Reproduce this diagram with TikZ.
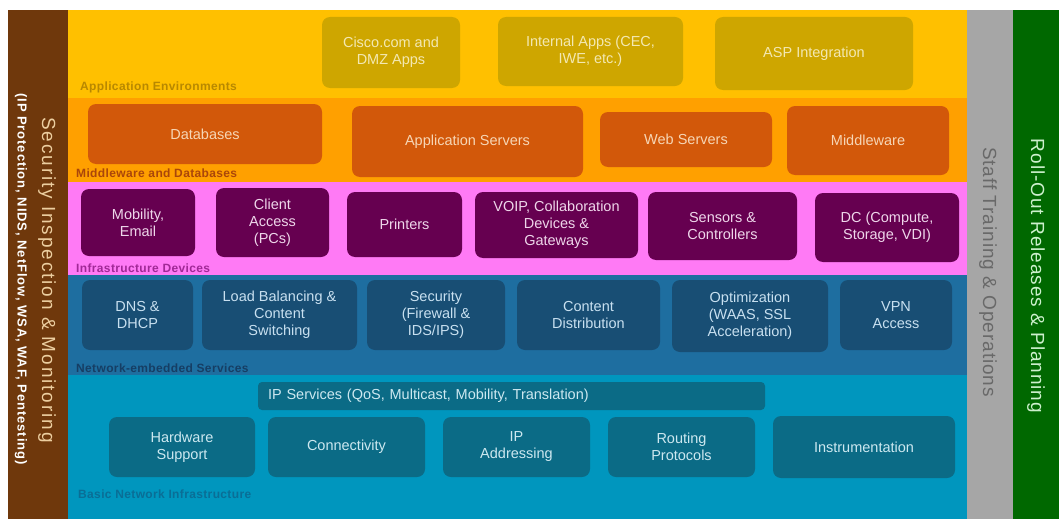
\documentclass[tikz,border=0pt]{standalone}
\usepackage{fontspec}
\setmainfont{Liberation Sans}
\newfontfamily\widefont[LetterSpace=5]{Liberation Sans}
\newfontfamily\widerfont[LetterSpace=10]{Liberation Sans}
\newfontfamily\labelfont[LetterSpace=3]{Liberation Sans}
\newfontfamily\subfont[LetterSpace=7]{Liberation Sans}

% layer colours
\definecolor{brownbar}{RGB}{111,56,12}
\definecolor{browntext}{RGB}{236,206,160}
\definecolor{yband}{RGB}{255,192,0}
\definecolor{ybox}{RGB}{206,166,0}
\definecolor{ytext}{RGB}{243,232,178}
\definecolor{ylabel}{RGB}{184,136,0}
\definecolor{oband}{RGB}{255,160,0}
\definecolor{obox}{RGB}{210,88,10}
\definecolor{otext}{RGB}{246,214,182}
\definecolor{olabel}{RGB}{170,70,10}
\definecolor{pband}{RGB}{255,122,245}
\definecolor{pbox}{RGB}{102,0,80}
\definecolor{ptext}{RGB}{238,214,234}
\definecolor{plabel}{RGB}{160,40,150}
\definecolor{bband}{RGB}{30,110,160}
\definecolor{bbox}{RGB}{24,78,116}
\definecolor{btext}{RGB}{200,224,240}
\definecolor{blabel}{RGB}{22,62,100}
\definecolor{tband}{RGB}{0,150,190}
\definecolor{tbox}{RGB}{11,107,134}
\definecolor{ttext}{RGB}{205,232,240}
\definecolor{tlabel}{RGB}{10,110,150}
\definecolor{grayband}{RGB}{166,166,166}
\definecolor{graytext}{RGB}{105,105,105}
\definecolor{greenband}{RGB}{0,104,0}
\definecolor{greentext}{RGB}{205,240,205}

\tikzset{
  tile/.style={rounded corners=8pt, inner sep=2pt, align=center,
    font=\fontsize{14.5}{17}\selectfont},
  yellowtile/.style={tile, fill=ybox, text=ytext},
  orangetile/.style={tile, fill=obox, text=otext},
  pinktile/.style={tile, fill=pbox, text=ptext},
  bluetile/.style={tile, fill=bbox, text=btext},
  tealtile/.style={tile, fill=tbox, text=ttext},
  layerlabel/.style={anchor=west, inner sep=0pt,
    font=\fontsize{12}{14}\labelfont\bfseries},
  sz/.style 2 args={minimum width=#1pt, minimum height=#2pt},
}

\begin{document}
\begin{tikzpicture}[x=1pt,y=-1pt]
\useasboundingbox (0,0) rectangle (1059,519);
\fill[white] (0,0) rectangle (1059,519);

% horizontal layers
\fill[yband] (68,10) rectangle (967,98);
\fill[oband] (68,98) rectangle (967,182);
\fill[pband] (68,182) rectangle (967,275);
\fill[bband] (68,275) rectangle (967,375);
\fill[tband] (68,375) rectangle (967,519);

% vertical bars
\fill[brownbar] (8,10) rectangle (68,519);
\fill[grayband] (967,10) rectangle (1013,519);
\fill[greenband] (1013,10) rectangle (1059,519);

% application environments
\node[yellowtile, sz={138}{71}] (cisco) at (391,52.5) {Cisco.com and\\DMZ Apps};
\node[yellowtile, sz={185}{69}] (internal) at (590.5,51.5) {Internal Apps (CEC,\\IWE, etc.)};
\node[yellowtile, sz={198}{73}] (asp) at (814,53.5) {ASP Integration};
\node[layerlabel, text=ylabel] (applbl) at (80,87) {Application Environments};

% middleware and databases
\node[orangetile, sz={234}{60}] (db) at (205,134) {Databases};
\node[orangetile, sz={231}{71}] (appsrv) at (467.5,141.5) {Application Servers};
\node[orangetile, sz={172}{55}] (websrv) at (686,139.5) {Web Servers};
\node[orangetile, sz={162}{69}] (mw) at (868,140.5) {Middleware};
\node[layerlabel, text=olabel] (mwlbl) at (76,173) {Middleware and Databases};

% infrastructure devices
\node[pinktile, sz={114}{67}] (mob) at (138,222.5) {Mobility,\\Email};
\node[pinktile, sz={113}{69}] (client) at (272.5,222.5) {Client\\Access\\(PCs)};
\node[pinktile, sz={115}{65}] (print) at (404.5,224.5) {Printers};
\node[pinktile, sz={163}{66}] (voip) at (556.5,225) {VOIP, Collaboration\\Devices \&\\Gateways};
\node[pinktile, sz={149}{68}] (sens) at (722.5,226) {Sensors \&\\Controllers};
\node[pinktile, sz={144}{69}] (dc) at (887,227.5) {DC (Compute,\\Storage, VDI)};
\node[layerlabel, text=plabel] (infralbl) at (76,268) {Infrastructure Devices};

% network-embedded services
\node[bluetile, sz={111}{70}] (dns) at (137.5,315) {DNS \&\\DHCP};
\node[bluetile, sz={155}{70}] (lb) at (279.5,315) {Load Balancing \&\\Content\\Switching};
\node[bluetile, sz={138}{70}] (sec) at (436,315) {Security\\(Firewall \&\\IDS/IPS)};
\node[bluetile, sz={143}{70}] (cdist) at (588.5,315) {Content\\Distribution};
\node[bluetile, sz={156}{72}] (opt) at (750,316) {Optimization\\(WAAS,  SSL\\Acceleration)};
\node[bluetile, sz={112}{70}] (vpn) at (896,315) {VPN\\Access};
\node[layerlabel, text=blabel] (netlbl) at (76,368) {Network-embedded Services};

% basic network infrastructure
\node[tealtile, rounded corners=4pt, minimum height=28pt, text width=487pt,
  align=left, inner xsep=10pt] (ipsvc) at (511.5,396)
  {IP Services (QoS, Multicast, Mobility, Translation)};
\node[tealtile, sz={146}{60}] (hw) at (182,447) {Hardware\\Support};
\node[tealtile, sz={157}{60}] (conn) at (346.5,447) {Connectivity};
\node[tealtile, sz={147}{60}] (ipaddr) at (516.5,447) {IP\\Addressing};
\node[tealtile, sz={147}{60}] (route) at (681.5,447) {Routing\\Protocols};
\node[tealtile, sz={182}{62}] (instr) at (864,447) {Instrumentation};
\node[layerlabel, text=tlabel] (basiclbl) at (78,494) {Basic Network Infrastructure};

% side bars
\node[rotate=-90, text=browntext, inner sep=0pt,
  font=\fontsize{19}{22}\widerfont] (secmon) at (47,280)
  {Security Inspection \& Monitoring};
\node[rotate=-90, text=white, inner sep=0pt,
  font=\fontsize{13}{15}\subfont\bfseries] (secsub) at (21,279)
  {(IP Protection, NIDS, NetFlow, WSA, WAF, Pentesting)};
\node[rotate=-90, text=graytext, inner sep=0pt,
  font=\fontsize{19}{22}\widefont] (staff) at (988,272)
  {Staff Training \& Operations};
\node[rotate=-90, text=greentext, inner sep=0pt,
  font=\fontsize{19}{22}\widefont] (rollout) at (1036,276)
  {Roll-Out Releases \& Planning};
\end{tikzpicture}
\end{document}
